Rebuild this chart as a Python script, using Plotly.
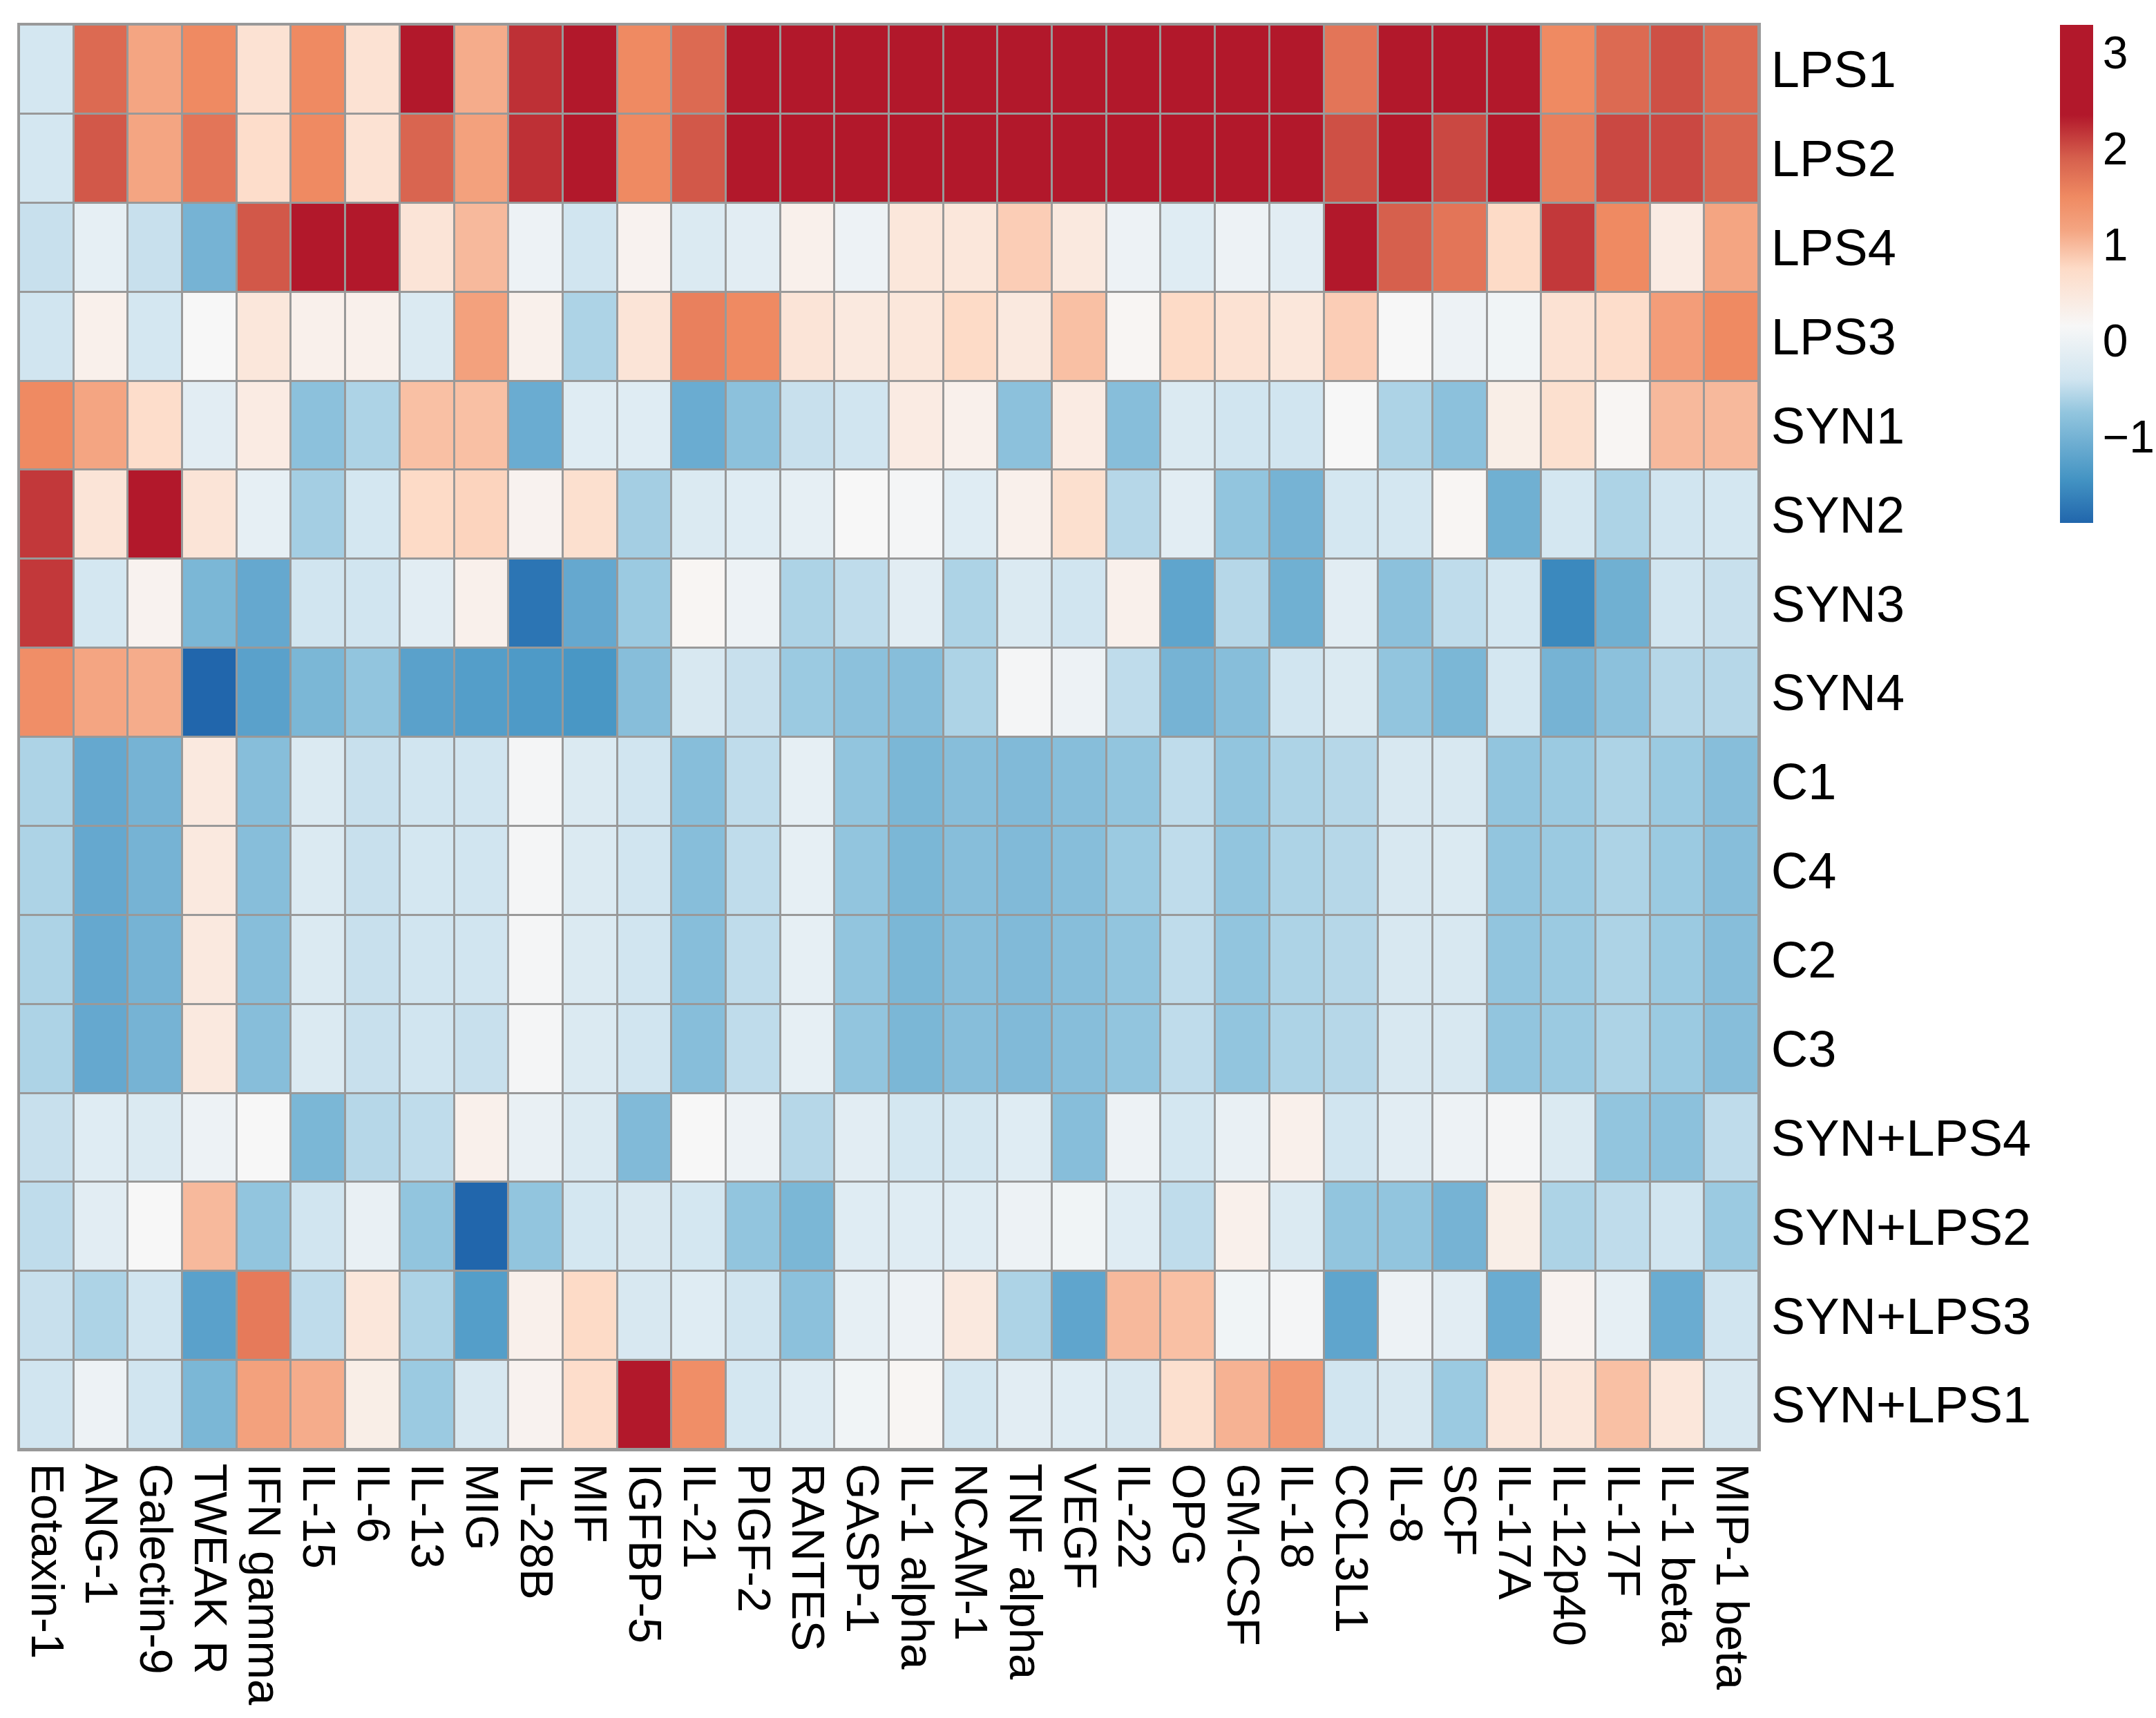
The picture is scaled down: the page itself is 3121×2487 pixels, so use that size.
import plotly.graph_objects as go

# Cytokine panel (columns) and samples (rows), in the order shown
cytokines = ["Eotaxin-1", "ANG-1", "Galectin-9", "TWEAK R", "IFN gamma", "IL-15", "IL-6", "IL-13",
             "MIG", "IL-28B", "MIF", "IGFBP-5", "IL-21", "PIGF-2", "RANTES", "GASP-1",
             "IL-1 alpha", "NCAM-1", "TNF alpha", "VEGF", "IL-22", "OPG", "GM-CSF", "IL-18",
             "CCL3L1", "IL-8", "SCF", "IL-17A", "IL-12p40", "IL-17F", "IL-1 beta", "MIP-1 beta"]
samples = ["LPS1", "LPS2", "LPS4", "LPS3", "SYN1", "SYN2", "SYN3", "SYN4",
           "C1", "C4", "C2", "C3", "SYN+LPS4", "SYN+LPS2", "SYN+LPS3", "SYN+LPS1"]

# scaled values per sample
lps1 = [-0.35, 1.8, 1.15, 1.5, 0.6, 1.5, 0.6, 2.9, 1.1, 2.2, 2.6, 1.5, 1.8, 3.0, 3.1, 3.0,
        3.2, 3.0, 3.1, 2.5, 3.0, 2.6, 3.1, 2.5, 1.7, 3.0, 2.9, 2.4, 1.5, 1.8, 2.0, 1.8]
lps2 = [-0.35, 1.95, 1.15, 1.7, 0.7, 1.5, 0.6, 1.85, 1.2, 2.2, 2.5, 1.5, 1.95, 3.1, 3.2, 3.29,
        3.1, 3.2, 3.0, 2.4, 3.1, 2.7, 3.2, 3.0, 2.0, 3.1, 2.05, 3.1, 1.6, 2.05, 2.05, 1.85]
lps4 = [-0.45, -0.1, -0.45, -1.0, 1.95, 3.0, 3.0, 0.55, 1.0, 0.0, -0.4, 0.25, -0.25, -0.15, 0.3, 0.0,
        0.5, 0.5, 0.85, 0.45, 0.0, -0.2, 0.0, -0.15, 3.0, 1.9, 1.7, 0.75, 2.15, 1.5, 0.4, 1.15]
lps3 = [-0.4, 0.3, -0.35, 0.15, 0.5, 0.3, 0.3, -0.25, 1.2, 0.3, -0.6, 0.55, 1.6, 1.5, 0.55, 0.45,
        0.5, 0.75, 0.45, 0.95, 0.2, 0.75, 0.6, 0.5, 0.85, 0.15, 0.0, 0.05, 0.6, 0.7, 1.25, 1.5]
syn1 = [1.5, 1.15, 0.7, -0.15, 0.4, -0.8, -0.6, 0.95, 0.95, -1.1, -0.2, -0.2, -1.1, -0.8, -0.45, -0.4,
        0.4, 0.3, -0.8, 0.4, -0.85, -0.25, -0.4, -0.4, 0.15, -0.6, -0.8, 0.35, 0.65, 0.2, 1.0, 1.0]
syn2 = [2.15, 0.55, 3.0, 0.55, -0.1, -0.65, -0.35, 0.75, 0.8, 0.25, 0.65, -0.65, -0.25, -0.2, -0.1, 0.15,
        0.1, -0.2, 0.3, 0.65, -0.55, -0.15, -0.75, -1.0, -0.35, -0.35, 0.2, -1.05, -0.35, -0.6, -0.4, -0.35]
syn3 = [2.15, -0.35, 0.25, -0.95, -1.15, -0.4, -0.4, -0.15, 0.3, -1.75, -1.15, -0.7, 0.2, 0.0, -0.6, -0.5,
        -0.15, -0.6, -0.25, -0.4, 0.3, -1.2, -0.55, -1.05, -0.15, -0.8, -0.5, -0.35, -1.55, -1.05, -0.4, -0.45]
syn4 = [1.45, 1.15, 1.1, -1.9, -1.25, -0.95, -0.75, -1.25, -1.3, -1.35, -1.4, -0.85, -0.3, -0.45, -0.7, -0.8,
        -0.85, -0.6, 0.1, 0.0, -0.5, -1.0, -0.85, -0.4, -0.25, -0.75, -0.95, -0.35, -1.0, -0.8, -0.55, -0.55]
c1 = [-0.6, -1.15, -1.0, 0.45, -0.85, -0.25, -0.45, -0.4, -0.4, 0.1, -0.25, -0.4, -0.85, -0.5, -0.1, -0.75,
      -0.95, -0.85, -0.9, -0.85, -0.75, -0.5, -0.75, -0.6, -0.55, -0.3, -0.3, -0.75, -0.7, -0.6, -0.7, -0.85]
c4 = [-0.6, -1.15, -1.0, 0.45, -0.85, -0.25, -0.45, -0.35, -0.4, 0.1, -0.25, -0.4, -0.85, -0.5, -0.1, -0.75,
      -0.95, -0.85, -0.9, -0.85, -0.7, -0.5, -0.75, -0.6, -0.55, -0.3, -0.25, -0.75, -0.7, -0.6, -0.7, -0.85]
c2 = [-0.6, -1.15, -1.0, 0.45, -0.85, -0.25, -0.45, -0.4, -0.4, 0.1, -0.25, -0.4, -0.85, -0.5, -0.1, -0.75,
      -0.95, -0.85, -0.9, -0.85, -0.75, -0.5, -0.75, -0.6, -0.55, -0.3, -0.3, -0.75, -0.7, -0.6, -0.7, -0.85]
c3 = [-0.6, -1.15, -1.0, 0.45, -0.85, -0.25, -0.45, -0.4, -0.45, 0.1, -0.25, -0.4, -0.85, -0.5, -0.1, -0.75,
      -0.95, -0.85, -0.9, -0.85, -0.75, -0.5, -0.75, -0.6, -0.55, -0.3, -0.3, -0.75, -0.7, -0.6, -0.7, -0.85]
synlps4 = [-0.45, -0.2, -0.25, 0.0, 0.15, -0.95, -0.55, -0.5, 0.3, -0.05, -0.25, -0.9, 0.15, 0.0, -0.55, -0.15,
           -0.35, -0.35, -0.2, -0.85, 0.0, -0.35, -0.05, 0.3, -0.4, -0.15, 0.0, 0.1, -0.25, -0.75, -0.8, -0.5]
synlps2 = [-0.5, -0.15, 0.15, 1.0, -0.75, -0.4, -0.05, -0.75, -1.9, -0.75, -0.35, -0.3, -0.35, -0.75, -0.95, -0.2,
           -0.2, -0.2, 0.0, 0.05, -0.2, -0.5, 0.3, -0.25, -0.75, -0.75, -1.0, 0.35, -0.6, -0.5, -0.4, -0.7]
synlps3 = [-0.45, -0.6, -0.4, -1.25, 1.65, -0.5, 0.5, -0.6, -1.3, 0.3, 0.75, -0.3, -0.2, -0.4, -0.8, -0.1,
           0.0, 0.45, -0.6, -1.2, 1.0, 0.95, 0.05, 0.1, -1.2, 0.0, -0.15, -1.1, 0.25, -0.1, -1.1, -0.4]
synlps1 = [-0.4, 0.0, -0.4, -0.95, 1.2, 1.1, 0.35, -0.7, -0.3, 0.25, 0.7, 3.0, 1.45, -0.35, -0.2, 0.05,
           0.2, -0.35, -0.15, -0.2, -0.3, 0.65, 1.05, 1.3, -0.4, -0.3, -0.7, 0.5, 0.5, 0.95, 0.5, -0.3]

z = [lps1, lps2, lps4, lps3, syn1, syn2, syn3, syn4,
     c1, c4, c2, c3, synlps4, synlps2, synlps3, synlps1]

zmin, zmax = -1.9, 3.29
stops = [(-1.9, '#2166AC'), (-1.45, '#4393C3'), (-0.75, '#92C5DE'), (-0.4, '#D1E5F0'),
         (0.15, '#F7F7F7'), (0.75, '#FDDBC7'), (1.15, '#F4A582'), (1.5, '#EF8A62'),
         (1.9, '#D6604D'), (2.35, '#B2182B'), (3.29, '#B2182B')]
colorscale = [[(v - zmin) / (zmax - zmin), c] for v, c in stops]

W, H = 3121, 2487
L, R, T, B = 28, 2546, 36, 2098
font = "Liberation Sans, Arial, Helvetica, sans-serif"

fig = go.Figure(go.Heatmap(
    z=z, x=cytokines, y=samples,
    colorscale=colorscale, zmin=zmin, zmax=zmax,
    xgap=3, ygap=3,
    colorbar=dict(
        x=(2982 - L) / (R - L), xanchor='left', xpad=0,
        y=1, yanchor='top', ypad=0,
        thickness=48, thicknessmode='pixels',
        len=721, lenmode='pixels',
        outlinewidth=0, ticks='', ticklen=0,
        tickvals=[-1, 0, 1, 2, 3],
        tickfont=dict(size=66, color='black', family=font),
    ),
))

fig.update_layout(
    width=W, height=H,
    margin=dict(l=L, r=W - R, t=T, b=H - B, pad=0),
    paper_bgcolor='white', plot_bgcolor='#999999',
    font=dict(family=font, color='black'),
)
fig.update_xaxes(tickmode='array', tickvals=cytokines, ticktext=cytokines, automargin=False,
                 tickangle=90, tickfont=dict(size=67), ticks='', showgrid=False, zeroline=False,
                 showline=True, mirror=True, linecolor='#999999', linewidth=3,
                 ticklabelstandoff=4)
fig.update_yaxes(tickmode='array', tickvals=samples, ticktext=samples, automargin=False,
                 side='right', autorange='reversed', tickfont=dict(size=74), ticks='',
                 showgrid=False, zeroline=False,
                 showline=True, mirror=True, linecolor='#999999', linewidth=3,
                 ticklabelstandoff=0)

fig.write_html("out.html", config={'displayModeBar': False},
               post_script="document.body.style.margin='0';")
